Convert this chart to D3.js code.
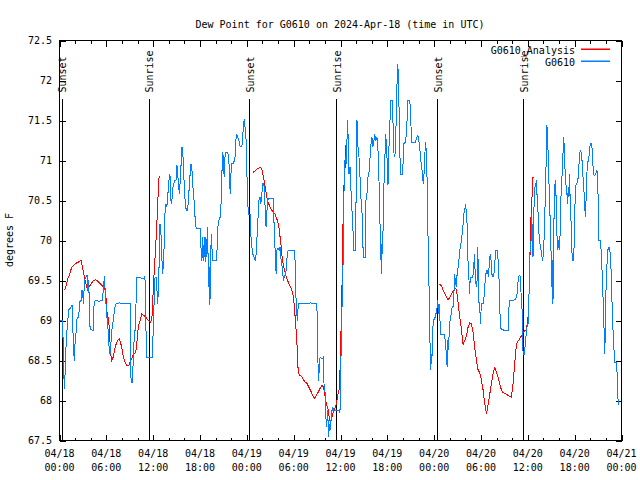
<!DOCTYPE html>
<html><head><meta charset="utf-8">
<script src="https://cdn.jsdelivr.net/npm/d3@7"></script>
<style>
html,body{margin:0;padding:0;background:#fff;}
svg{display:block;}
text{font-family:"DejaVu Sans Mono","Liberation Mono",monospace;font-size:10px;fill:#000;}
</style></head><body>
<svg id="chart" width="640" height="480"></svg>
<script>
const chartTitle = "Dew Point for G0610 on 2024-Apr-18 (time in UTC)";
const yAxisLabel = "degrees F";
const seriesNames = ["G0610_Analysis", "G0610"];
const seriesColors = ["#ff0000", "#0080ff"];
const startUTC = Date.UTC(2024, 3, 18, 0, 0);

// hours since 2024-04-18 00:00 UTC (null = gap)
const analysisHours = [0.64,0.81,1.07,1.36,1.58,1.92,2.22,2.43,2.77,2.94,3.20,3.37,3.50,3.62,3.79,4.05,4.35,4.65,4.90,5.20,5.50,5.76,5.88,6.10,6.31,6.56,6.69,6.82,6.99,7.20,7.46,7.67,7.97,8.19,8.40,8.61,8.91,9.04,9.25,9.46,9.76,9.94,10.10,10.32,10.53,10.87,11.22,11.38,11.64,11.81,11.89,12.02,12.15,12.32,12.45,12.58,12.66,12.75,12.88,
 null,
 24.77,25.07,25.36,25.71,25.92,26.05,26.22,26.35,26.47,26.56,26.64,26.77,26.90,27.07,27.20,27.41,27.62,27.75,27.92,28.05,28.18,28.26,28.39,28.52,28.65,28.78,28.94,29.16,29.38,29.58,29.71,29.89,30.02,30.09,30.22,30.31,30.40,30.48,30.57,30.66,30.86,31.08,31.30,31.50,31.72,31.93,32.14,32.36,32.57,32.70,32.87,33.12,33.38,33.64,33.80,33.98,34.06,34.24,34.36,34.49,34.57,34.70,34.83,35.00,35.13,35.26,35.34,35.52,35.68,35.85,35.98,36.07,36.19,36.28,36.36,36.49,36.62,36.71,
 null,
 48.60,48.94,49.15,49.49,49.79,50.01,50.30,50.56,50.77,50.94,51.12,51.29,51.50,51.71,51.92,52.14,52.35,52.56,52.78,52.99,53.20,53.42,53.63,53.84,54.06,54.27,54.48,54.70,54.90,55.12,55.34,55.54,55.76,55.98,56.18,56.40,56.62,56.82,57.04,57.26,57.46,57.68,57.90,58.10,58.32,58.54,58.74,58.96,59.18,59.38,59.60,59.82,60.02,60.15,60.24,60.32,60.41,60.49,60.62,60.66,60.84];
const analysisTemps = [69.38,69.42,69.52,69.60,69.67,69.70,69.72,69.73,69.75,69.67,69.54,69.46,69.42,69.38,69.42,69.46,69.50,69.51,69.49,69.46,69.43,69.40,69.38,69.09,69.00,68.58,68.50,68.52,68.60,68.69,68.75,68.77,68.67,68.54,68.48,68.44,68.44,68.48,68.52,68.58,68.60,68.75,68.92,69.00,69.08,69.06,69.02,69.00,68.98,69.00,69.10,69.42,69.63,69.92,70.17,70.42,70.67,70.79,70.81,
 null,
 70.85,70.87,70.90,70.91,70.90,70.83,70.75,70.67,70.60,70.54,70.50,70.46,70.44,70.40,70.38,70.35,70.33,70.29,70.25,70.19,70.13,70.04,69.94,69.79,69.71,69.65,69.58,69.52,69.46,69.42,69.40,69.33,69.25,69.17,69.00,68.88,68.75,68.60,68.38,68.33,68.31,68.29,68.25,68.23,68.21,68.17,68.13,68.08,68.04,68.03,68.06,68.10,68.15,68.19,68.17,68.08,68.02,67.94,67.92,67.83,67.77,67.73,67.75,67.83,67.88,67.90,67.92,67.98,68.08,68.15,68.50,68.88,69.42,69.92,70.46,70.79,70.96,71.21,
 null,
 69.45,69.44,69.38,69.31,69.26,69.29,69.35,69.38,69.40,69.33,69.17,69.04,68.88,68.70,68.75,68.81,68.92,68.97,68.96,68.85,68.65,68.50,68.38,68.35,68.25,68.13,67.96,67.83,67.94,68.08,68.21,68.33,68.41,68.35,68.29,68.21,68.13,68.10,68.09,68.08,68.06,68.05,68.04,68.21,68.46,68.71,68.74,68.77,68.81,68.84,68.88,68.88,69.04,69.33,69.63,70.00,70.31,70.50,70.63,70.79,70.79];

const obsHours = [0.085,0.38,0.38,0.55,0.55,0.64,0.72,0.81,0.94,1.07,1.15,1.36,1.58,1.66,1.75,1.83,1.92,2.00,2.13,2.26,2.43,2.56,2.64,2.77,2.86,2.94,3.07,3.20,3.37,3.50,3.62,3.62,3.71,3.79,3.92,4.14,4.35,4.43,4.56,4.77,4.99,5.50,5.76,5.84,5.93,6.10,6.27,6.35,6.48,6.61,6.69,6.82,6.91,7.12,7.25,7.38,7.67,8.40,8.91,9.04,9.08,9.17,9.34,9.46,9.59,9.76,9.85,10.02,10.53,10.79,10.87,10.96,11.04,11.17,11.17,11.38,11.81,11.89,12.02,12.15,12.24,12.45,12.53,12.66,12.75,12.87,13.00,13.09,13.22,13.34,13.43,13.51,13.64,13.73,13.85,13.94,14.07,14.15,14.28,14.37,14.54,
 14.75,14.92,15.05,15.13,15.22,15.35,15.47,15.60,15.69,15.82,15.90,15.99,16.11,16.24,16.41,16.54,16.67,16.84,16.97,17.09,17.27,17.39,17.52,17.82,18.03,18.12,18.25,18.33,18.46,18.54,18.67,18.76,18.89,18.97,19.10,19.18,19.27,19.35,19.44,19.52,19.65,19.87,20.08,20.21,20.29,20.46,20.59,20.72,20.80,20.93,21.02,21.10,21.23,21.44,21.57,21.70,21.87,21.96,22.08,22.30,22.51,22.59,22.72,22.85,22.98,23.15,23.36,23.49,23.58,23.70,23.79,23.92,24.09,24.21,24.43,24.55,24.77,24.94,25.07,25.19,25.28,25.41,25.49,25.62,25.71,25.79,25.92,26.05,26.18,26.30,26.39,26.47,26.56,26.64,26.77,26.98,27.41,27.54,27.67,27.75,27.84,28.01,28.18,28.26,28.39,28.52,28.69,28.82,28.90,
 29.03,29.16,29.29,29.59,30.14,30.22,30.31,30.40,30.48,30.57,30.65,30.86,31.29,31.72,32.14,32.57,32.87,32.96,33.04,33.12,33.21,33.29,33.38,33.64,33.81,33.89,33.98,34.06,34.15,34.23,34.32,34.40,34.49,34.57,34.70,34.83,35.00,35.13,35.34,35.77,35.89,35.98,36.06,36.15,36.28,36.32,36.40,36.49,36.62,36.75,36.83,36.92,37.00,37.09,37.22,37.34,37.47,37.60,37.69,37.90,37.98,38.11,38.24,38.32,38.49,38.58,38.75,38.83,38.96,39.18,39.26,39.39,39.52,39.69,39.81,39.94,40.03,40.11,40.24,40.37,40.54,40.67,40.80,40.88,40.97,41.06,41.14,41.23,41.31,41.40,41.52,41.65,41.78,41.91,42.00,42.08,42.17,42.25,42.34,42.43,42.60,42.73,42.86,42.94,43.03,43.12,43.24,
 43.27,43.35,43.44,43.53,43.61,43.70,43.91,44.04,44.12,44.34,44.46,44.55,44.63,44.89,44.97,45.06,45.15,45.40,45.61,45.74,45.91,46.04,46.17,46.34,46.51,46.60,46.68,46.81,46.89,47.02,47.11,47.19,47.28,47.36,47.45,47.53,47.62,47.70,47.79,47.87,48.04,48.17,48.30,48.39,48.47,48.56,48.64,48.73,48.81,48.90,49.15,49.32,49.41,49.49,49.58,49.66,49.75,49.83,49.92,50.00,50.09,50.18,50.30,50.43,50.52,50.60,50.73,50.82,50.94,51.07,51.16,51.28,51.37,51.58,51.71,51.80,51.92,52.01,52.10,52.22,52.31,52.44,52.52,52.61,52.69,52.78,52.90,52.99,53.07,53.16,53.29,53.42,53.50,53.59,53.67,53.76,53.84,53.93,54.01,54.10,54.27,54.44,54.53,54.61,54.70,54.78,54.87,54.95,55.04,55.12,55.21,55.29,55.38,55.46,55.55,55.63,55.76,55.89,56.14,56.23,56.32,56.40,56.49,56.91,57.51,57.59,
 57.68,57.93,58.11,58.45,58.62,58.70,58.79,58.87,58.96,59.09,59.13,59.21,59.30,59.39,59.56,59.64,59.73,59.81,59.90,59.98,60.07,60.15,60.24,60.32,60.41,60.49,60.58,60.66,60.75,60.83,60.92,61.00,61.09,61.17,61.26,61.34,61.43,61.52,61.60,61.69,61.77,61.86,61.94,62.03,62.11,62.20,62.28,62.37,62.45,62.54,62.62,62.71,62.79,62.88,62.96,63.05,63.13,63.22,63.31,63.39,63.48,63.56,63.65,63.73,63.82,63.90,63.99,64.07,64.16,64.24,64.33,64.41,64.50,64.58,64.67,64.75,64.84,64.92,65.01,65.09,65.18,65.27,65.35,65.44,65.52,65.61,65.69,65.86,65.95,66.03,66.12,66.20,66.29,66.46,66.54,66.63,66.76,66.88,66.97,67.05,67.14,67.22,67.31,67.39,67.48,67.56,67.65,67.82,67.91,67.99,68.16,68.25,68.33,68.42,68.50,68.59,68.67,68.76,68.84,68.93,69.01,69.10,69.27,69.35,69.44,69.52,69.61,69.69,69.78,69.87,69.95,70.04,70.12,70.21,70.29,70.38,70.46,70.55,70.63,70.72,70.80,70.89,70.98,71.06,71.15,71.32,71.40,71.49,71.58];
const obsTemps = [69.00,69.00,68.79,68.79,68.33,68.15,68.35,68.63,68.85,69.00,69.13,69.15,69.19,69.19,68.75,68.58,68.50,68.75,68.85,69.04,69.04,69.17,69.25,69.25,69.38,69.38,69.21,69.50,69.54,69.56,69.56,69.38,69.50,69.33,68.89,68.88,68.88,69.21,69.25,69.25,69.24,69.25,69.56,69.38,69.25,69.02,68.83,68.67,68.58,68.75,68.88,68.94,69.04,69.17,69.21,69.21,69.22,69.21,69.21,69.21,68.75,68.23,68.23,68.54,68.83,68.92,69.54,69.54,69.53,69.52,69.54,69.50,68.88,68.83,68.54,68.54,68.54,68.54,68.92,69.33,69.54,69.54,69.21,69.33,69.67,70.21,70.08,69.83,69.58,69.75,70.00,70.33,70.46,70.42,70.50,70.67,70.79,70.83,70.50,70.46,70.67,
 70.75,70.75,70.94,70.83,70.75,70.58,70.75,71.00,71.17,71.06,70.83,70.71,70.46,70.38,70.38,70.54,70.75,70.96,70.88,70.67,70.46,70.25,70.15,70.15,70.15,69.92,69.75,70.04,69.75,70.04,69.73,70.04,69.79,70.17,69.42,69.67,69.19,69.67,70.08,69.92,69.75,69.75,69.75,69.92,70.17,70.27,70.29,70.50,70.83,71.10,70.92,70.79,71.10,71.10,71.10,71.00,70.58,70.83,70.96,70.96,71.06,71.25,71.33,71.29,71.25,71.17,71.17,71.33,71.46,71.52,71.38,71.25,70.50,70.33,70.33,70.00,69.83,69.79,69.75,69.83,70.00,70.21,70.46,70.54,70.54,70.46,70.58,70.71,70.71,70.54,70.25,70.17,70.33,70.50,70.52,70.52,70.52,70.00,69.83,69.58,69.88,69.90,69.88,69.92,69.75,69.67,69.50,69.56,69.56,
 69.63,69.79,69.88,69.88,69.88,69.58,69.25,69.08,69.00,69.17,69.21,69.21,69.21,69.21,69.22,69.21,69.22,69.21,68.96,68.46,68.25,68.46,68.54,68.52,68.54,68.21,68.17,68.04,67.75,67.67,67.88,67.75,67.54,67.71,67.63,67.83,67.92,67.88,67.88,67.88,67.85,67.92,68.50,69.17,69.17,69.67,70.21,70.92,71.04,70.96,71.25,71.50,71.17,70.83,70.92,70.63,70.38,70.13,69.88,69.88,70.42,71.50,71.17,71.13,70.83,70.58,70.38,70.00,69.79,69.79,70.50,70.58,70.79,70.88,71.08,71.25,71.29,71.17,71.21,71.33,71.25,71.29,71.13,71.04,70.54,70.21,70.00,69.58,69.96,69.83,70.58,70.92,71.33,71.17,70.92,70.69,71.00,71.33,71.50,71.75,71.75,71.46,71.08,71.04,71.13,71.46,71.96,
 71.96,72.21,71.88,71.54,71.08,70.83,70.83,71.00,71.21,71.23,71.38,71.54,71.75,71.75,71.54,71.38,71.23,71.23,71.23,71.29,71.31,71.25,71.13,70.96,70.83,70.71,70.79,71.08,71.23,71.08,70.67,70.21,69.58,69.38,68.83,68.38,68.58,68.46,68.83,68.96,69.04,69.04,69.13,69.17,69.25,69.08,69.21,69.04,68.83,68.83,68.83,68.83,68.75,68.67,68.54,68.42,68.75,68.63,68.83,68.96,69.04,69.08,69.17,69.17,69.29,69.58,69.50,69.42,69.58,69.67,69.75,69.88,69.92,70.08,70.21,70.33,70.38,70.46,70.38,70.21,69.79,69.58,69.33,69.50,69.54,69.54,69.54,69.58,69.67,69.83,69.50,69.42,69.50,69.92,69.50,69.17,69.17,68.96,69.13,69.21,69.21,69.33,69.50,69.58,69.63,69.58,69.63,69.54,69.67,69.79,69.83,69.75,69.58,69.54,69.58,69.54,69.71,69.88,69.88,69.63,69.50,69.21,68.90,68.88,68.88,69.17,
 69.25,69.25,69.25,69.27,69.33,69.42,69.54,69.56,69.56,69.55,69.33,69.25,69.04,68.58,68.58,68.67,68.75,68.88,68.92,68.92,69.00,69.33,69.79,69.92,70.00,70.33,70.08,69.79,70.29,70.54,70.67,70.67,70.75,70.58,70.50,70.25,70.08,70.00,69.92,69.88,69.83,69.75,69.79,69.92,70.08,70.42,70.67,71.13,71.44,71.25,71.04,70.71,70.50,70.17,69.92,69.42,69.75,69.21,70.00,70.50,70.71,70.75,70.42,70.08,69.88,69.92,70.00,69.88,70.17,70.54,70.63,70.92,71.08,71.29,71.17,70.92,70.75,70.67,70.58,70.46,70.67,70.54,70.83,70.42,70.29,70.00,69.75,69.75,70.00,70.42,70.67,70.71,70.71,70.79,70.92,71.08,71.13,71.08,70.96,70.83,70.67,70.58,70.38,70.29,70.58,70.83,70.96,71.04,71.13,71.21,71.21,71.13,70.96,70.83,70.81,70.81,70.83,70.85,70.88,70.83,70.50,70.00,70.00,69.92,69.83,69.58,69.33,69.17,68.83,68.58,69.17,69.46,69.67,69.79,69.92,69.88,69.92,69.83,69.71,69.50,69.17,68.92,68.79,68.58,68.48,68.48,68.42,68.21,67.94];

const sunHours = [0.26, 11.42, 24.34, 35.46, 48.38, 59.38];
const sunLabels = ["Sunset", "Sunrise", "Sunset", "Sunrise", "Sunset", "Sunrise"];
const yTickValues = [67.5, 68, 68.5, 69, 69.5, 70, 70.5, 71, 71.5, 72, 72.5];
const xMajorHours = [0, 6, 12, 18, 24, 30, 36, 42, 48, 54, 60, 66, 72];
const xMinorHours = d3.range(0, 73, 2);

const toDate = h => new Date(startUTC + h * 3600000);

const svg = d3.select("#chart");
const L = 59.5, R = 621.5, T = 40.5, B = 440.5;
const x = d3.scaleUtc().domain([toDate(0), toDate(72)]).range([L, R]);
const y = d3.scaleLinear().domain([67.5, 72.5]).range([B, T]);

svg.append("rect").attr("width", 640).attr("height", 480).attr("fill", "#fff");

// title
svg.append("text").attr("x", 340).attr("y", 28).attr("text-anchor", "middle").text(chartTitle);

// y label
svg.append("text").attr("transform", "translate(13,240) rotate(-90)")
  .attr("text-anchor", "middle").text(yAxisLabel);

// axes ticks (inward, mirrored)
function styleAxis(g) {
  g.select(".domain").remove();
  g.selectAll("line").attr("stroke", "#000").attr("shape-rendering", "crispEdges");
  g.selectAll("text").remove();
}
svg.append("g").attr("transform", `translate(0,${B})`)
  .call(d3.axisBottom(x).tickValues(xMinorHours.map(toDate)).tickSize(-3)).call(styleAxis);
svg.append("g").attr("transform", `translate(0,${B})`)
  .call(d3.axisBottom(x).tickValues(xMajorHours.map(toDate)).tickSize(-6)).call(styleAxis);
svg.append("g").attr("transform", `translate(0,${T})`)
  .call(d3.axisTop(x).tickValues(xMinorHours.map(toDate)).tickSize(-3)).call(styleAxis);
svg.append("g").attr("transform", `translate(0,${T})`)
  .call(d3.axisTop(x).tickValues(xMajorHours.map(toDate)).tickSize(-6)).call(styleAxis);
svg.append("g").attr("transform", `translate(${L},0)`)
  .call(d3.axisLeft(y).tickValues(yTickValues).tickSize(-6)).call(styleAxis);
svg.append("g").attr("transform", `translate(${R},0)`)
  .call(d3.axisRight(y).tickValues(yTickValues).tickSize(-6)).call(styleAxis);

// y tick labels
svg.append("g").selectAll("text").data(yTickValues).join("text")
  .attr("x", 52).attr("y", d => y(d)).attr("dy", "0.36em")
  .attr("text-anchor", "end").text(d => d3.format("")(d));

// x tick labels
const fmtDate = d3.utcFormat("%m/%d"), fmtTime = d3.utcFormat("%H:%M");
const xl = svg.append("g").selectAll("text").data(xMajorHours).join("text")
  .attr("text-anchor", "middle");
xl.append("tspan").attr("x", h => x(toDate(h))).attr("y", 457).text(h => fmtDate(toDate(h)));
xl.append("tspan").attr("x", h => x(toDate(h))).attr("y", 470.5).text(h => fmtTime(toDate(h)));

// sun lines
const lineTopY = B - 0.855 * (B - T);
const sun = svg.append("g");
sun.selectAll("line").data(sunHours).join("line")
  .attr("x1", h => Math.round(x(toDate(h))) + 0.5).attr("x2", h => Math.round(x(toDate(h))) + 0.5)
  .attr("y1", B).attr("y2", lineTopY)
  .style("stroke", "#000").attr("stroke-width", 1).attr("shape-rendering", "crispEdges");
sun.selectAll("text").data(sunHours).join("text")
  .attr("transform", h => `translate(${x(toDate(h)) + 1},${lineTopY - 6}) rotate(-90)`)
  .attr("text-anchor", "start").attr("dy", "0.36em")
  .text((h, i) => sunLabels[i]);

// data
const analysis = analysisHours.map((h, i) => [h, analysisTemps[i]]);
const obs = obsHours.map((h, i) => [h, obsTemps[i]]);
const lineGen = d3.line()
  .defined(d => d[0] != null && d[1] != null)
  .x(d => x(toDate(d[0]))).y(d => y(d[1]));

svg.append("path").datum(analysis).attr("d", lineGen)
  .style("fill", "none").style("stroke", seriesColors[0]).style("stroke-width", 1)
  .attr("shape-rendering", "crispEdges");
svg.append("path").datum(obs).attr("d", lineGen)
  .style("fill", "none").style("stroke", seriesColors[1]).style("stroke-width", 1)
  .attr("shape-rendering", "crispEdges");

// border
svg.append("rect").attr("x", L).attr("y", T).attr("width", R - L).attr("height", B - T)
  .style("fill", "none").style("stroke", "#000").attr("shape-rendering", "crispEdges");

// legend
const legY = [50.5, 62.5];
const leg = svg.append("g");
seriesNames.forEach((name, i) => {
  leg.append("text").attr("x", 575).attr("y", legY[i]).attr("dy", "0.36em")
    .attr("text-anchor", "end").text(name);
  leg.append("rect").attr("x", 581).attr("y", Math.floor(legY[i]) - 1.5).attr("width", 29).attr("height", 1.5)
    .style("fill", seriesColors[i]).style("stroke", "none");
});
</script>
</body></html>
